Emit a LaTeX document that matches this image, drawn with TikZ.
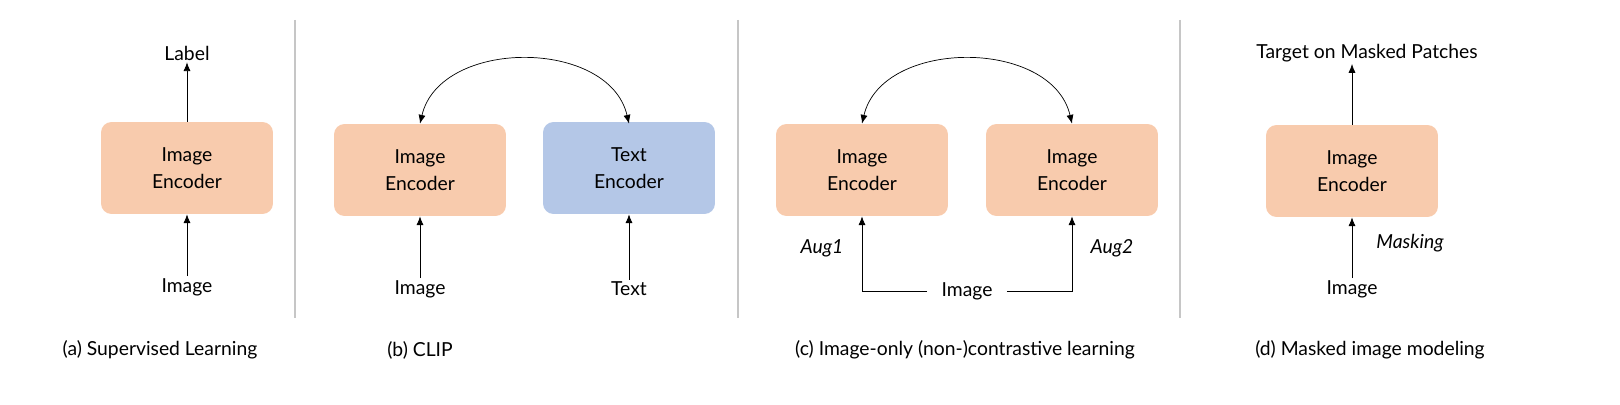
\documentclass[tikz,border=0pt]{standalone}
\usepackage{fontspec}
\setmainfont{Lato}
\usetikzlibrary{arrows.meta}
\definecolor{encorange}{HTML}{F8CBAD}
\definecolor{encblue}{HTML}{B4C7E7}
\tikzset{
  ptarrow/.style={-{Latex[length=5pt,width=4pt]}, thin},
  ptboth/.style={{Latex[length=5pt,width=4pt]}-{Latex[length=5pt,width=4pt]}, thin},
  ptenc/.style={rectangle, rounded corners=6pt, fill=encorange, minimum width=3.44cm, minimum height=1.84cm, align=center, font=\fontsize{11}{15}\selectfont},
  pttext/.style={font=\fontsize{11}{14}\selectfont, inner sep=1pt},
  ptsep/.style={draw=gray!45, line width=0.9pt},
}
\begin{document}
\begin{tikzpicture}[x=0.02cm, y=-0.02cm]
  \useasboundingbox (0,0) rectangle (1620,405);

  % (a) Supervised learning
  \node[ptenc] (enc_a) at (187,168) {Image\\Encoder};
  \node[pttext] (label_a) at (187,53) {Label};
  \node[pttext] (img_a) at (187,287) {Image};
  \node[pttext] (cap_a) at (160,350) {(a) Supervised Learning};
  \draw[ptarrow] (enc_a.north) -- (label_a.south);
  \draw[ptarrow] (img_a.north) -- (enc_a.south);
  \draw[ptsep] (295,20) -- (295,318);

  % (b) CLIP
  \node[ptenc] (enc_b) at (420,170) {Image\\Encoder};
  \node[ptenc, fill=encblue] (txt_b) at (629,168) {Text\\Encoder};
  \node[pttext] (img_b) at (420,289) {Image};
  \node[pttext] (text_b) at (629,289) {Text};
  \node[pttext] (cap_b) at (420,350) {(b) CLIP};
  \draw[ptarrow] (img_b.north) -- (enc_b.south);
  \draw[ptarrow] (text_b.north) -- (txt_b.south);
  \draw[ptboth]
    (enc_b.north) .. controls (440,38) and (609,38) .. (txt_b.north |- enc_b.north);
  \draw[ptsep] (738,20) -- (738,318);

  % (c) Image-only (non-)contrastive learning
  \node[ptenc] (enc_c1) at (862,170) {Image\\Encoder};
  \node[ptenc] (enc_c2) at (1072,170) {Image\\Encoder};
  \node[pttext, inner xsep=8pt] (img_c) at (967,291) {Image};
  \node[pttext] (cap_c) at (965,350) {(c) Image-only (non-)contrastive learning};
  \node[pttext, font=\fontsize{11}{14}\selectfont\itshape] (aug_c1) at (822,248) {Aug1};
  \node[pttext, font=\fontsize{11}{14}\selectfont\itshape] (aug_c2) at (1112,248) {Aug2};
  \draw[ptarrow] (img_c.west) -| (enc_c1.south);
  \draw[ptarrow] (img_c.east) -| (enc_c2.south);
  \draw[ptboth]
    (enc_c1.north) .. controls (882,38) and (1052,38) .. (enc_c2.north);
  \draw[ptsep] (1180,20) -- (1180,318);

  % (d) Masked image modeling
  \node[ptenc] (enc_d) at (1352,171) {Image\\Encoder};
  \node[pttext] (target_d) at (1367,53) {Target on Masked Patches};
  \node[pttext] (img_d) at (1352,289) {Image};
  \node[pttext, font=\fontsize{11}{14}\selectfont\itshape] (mask_d) at (1410,243) {Masking};
  \node[pttext] (cap_d) at (1370,350) {(d) Masked image modeling};
  \draw[ptarrow] (enc_d.north) -- (enc_d.north |- target_d.south);
  \draw[ptarrow] (img_d.north) -- (enc_d.south);
\end{tikzpicture}
\end{document}
